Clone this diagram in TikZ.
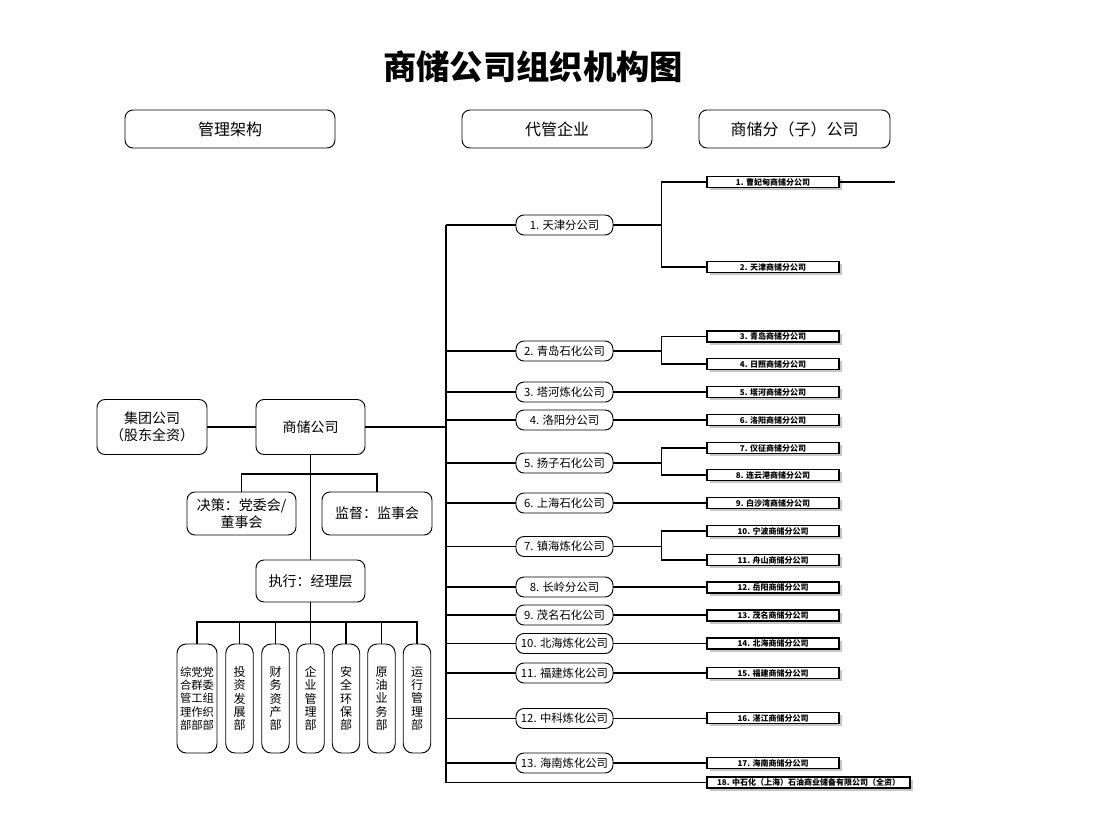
\documentclass[tikz,border=0pt]{standalone}
\usepackage{fontspec}
\setmainfont{Noto Sans CJK SC}
\usetikzlibrary{shadows}
\begin{document}
\begin{tikzpicture}[x=0.75pt,y=-0.75pt,
  conn/.style={line width=0.8pt},
  hdr/.style={draw, line width=0.7pt, rounded corners=6pt, inner sep=0pt, minimum height=28.5pt, font=\fontsize{12}{14}\selectfont},
  mgmt/.style={draw, line width=0.7pt, rounded corners=6pt, align=center, inner sep=0pt, font=\fontsize{10.5}{13}\selectfont},
  dept/.style={draw, line width=0.7pt, rounded corners=7pt, align=center, inner sep=0pt, minimum height=81.75pt, minimum width=20.6pt, font=\fontsize{9}{10}\selectfont},
  pill/.style={draw, line width=0.7pt, rounded corners=6pt, minimum width=72.75pt, minimum height=15pt, inner sep=0pt, font=\fontsize{8.5}{10}\selectfont},
  sub/.style={draw, line width=0.8pt, fill=white, minimum width=99pt, minimum height=8.25pt, inner sep=0pt, font=\bfseries\fontsize{6}{7}\selectfont,
    drop shadow={shadow xshift=2pt, shadow yshift=-2pt, fill=black, opacity=0.22}}
]
\useasboundingbox (0,0) rectangle (1104,821);
\fill[white] (0,0) rectangle (1104,821);

% title
\node[font=\bfseries\fontsize{25}{28}\selectfont] (title) at (533,67) {商储公司组织机构图};

% headers
\node[hdr, minimum width=157.5pt] (h1) at (230,129) {管理架构};
\node[hdr, minimum width=142.5pt] (h2) at (557,129) {代管企业};
\node[hdr, minimum width=143.25pt] (h3) at (794.5,129) {商储分（子）公司};

% management structure
\node[mgmt, minimum width=82.5pt, minimum height=41.25pt] (jt) at (152,427) {集团公司\\（股东全资）};
\node[mgmt, minimum width=81.75pt, minimum height=41.25pt] (sc) at (310.5,427) {商储公司};
\node[mgmt, minimum width=81.75pt, minimum height=32.25pt] (jc) at (241.5,513.5) {决策：党委会/\\董事会};
\node[mgmt, minimum width=82.5pt, minimum height=32.25pt] (jd) at (377,513.5) {监督：监事会};
\node[mgmt, minimum width=81.75pt, minimum height=31.5pt] (zx) at (310.5,581) {执行：经理层};

\draw[conn] (jt.east) -- (sc.west);
\draw[conn] (sc.south) -- (zx.north);
\coordinate (jbar) at (310.5,474);
\draw[conn] (jc.north) -- (jc.north |- jbar) -- (jd.north |- jbar) -- (jd.north);

% departments
\node[dept, minimum width=30pt, font=\fontsize{8.5}{10}\selectfont] (d1) at (197,698.5) {综党党\\合群委\\管工组\\理作织\\部部部};
\node[dept] (d2) at (239.5,698.5) {投\\资\\发\\展\\部};
\node[dept] (d3) at (275.5,698.5) {财\\务\\资\\产\\部};
\node[dept] (d4) at (310.5,698.5) {企\\业\\管\\理\\部};
\node[dept] (d5) at (346,698.5) {安\\全\\环\\保\\部};
\node[dept] (d6) at (381.5,698.5) {原\\油\\业\\务\\部};
\node[dept] (d7) at (417,698.5) {运\\行\\管\\理\\部};
\coordinate (dbar) at (310.5,622);
\draw[conn] (zx.south) -- (dbar);
\draw[conn] (d1.north) -- (d1.north |- dbar) -- (d7.north |- dbar) -- (d7.north);
\foreach \d in {d2,d3,d4,d5,d6}{\draw[conn] (\d.north) -- (\d.north |- dbar);}

% managed enterprises
\foreach \n/\y/\t in {m1/225/{1. 天津分公司}, m2/351/{2. 青岛石化公司}, m3/392/{3. 塔河炼化公司},
  m4/420/{4. 洛阳分公司}, m5/463/{5. 扬子石化公司}, m6/503/{6. 上海石化公司},
  m7/546.5/{7. 镇海炼化公司}, m8/587/{8. 长岭分公司}, m9/615/{9. 茂名石化公司},
  m10/643.5/{10. 北海炼化公司}, m11/673/{11. 福建炼化公司}, m12/718.5/{12. 中科炼化公司},
  m13/763/{13. 海南炼化公司}}{
  \node[pill] (\n) at (564.5,\y) {\t};
}

% sub companies
\foreach \n/\y/\t in {r1/182/{1. 曹妃甸商储分公司}, r2/267/{2. 天津商储分公司}, r3/336.5/{3. 青岛商储分公司},
  r4/364/{4. 日照商储分公司}, r5/392/{5. 塔河商储分公司}, r6/420/{6. 洛阳商储分公司},
  r7/448/{7. 仪征商储分公司}, r8/475/{8. 连云港商储分公司}, r9/503/{9. 白沙湾商储分公司},
  r10/531/{10. 宁波商储分公司}, r11/560/{11. 舟山商储分公司}, r12/587.5/{12. 岳阳商储分公司},
  r13/615.5/{13. 茂名商储分公司}, r14/643.5/{14. 北海商储分公司}, r15/673/{15. 福建商储分公司},
  r16/718/{16. 湛江商储分公司}, r17/763/{17. 海南商储分公司}}{
  \node[sub] (\n) at (773,\y) {\t};
}
\node[sub, minimum width=152.25pt] (r18) at (808.5,782.5) {18. 中石化（上海）石油商业储备有限公司（全资）};

% spine
\coordinate (st) at (446,225);
\coordinate (sb) at (446,782.5);
\draw[conn] (st) -- (sb) -- (r18.west);
\draw[conn] (sc.east) -- (sc.east -| st);
\foreach \m in {m1,m2,m3,m4,m5,m6,m7,m8,m9,m10,m11,m12,m13}{\draw[conn] (\m.west) -- (\m.west -| st);}

% branches with two subsidiaries
\coordinate (bx) at (661.5,0);
\foreach \m/\a/\b in {m1/r1/r2, m2/r3/r4, m5/r7/r8, m7/r10/r11}{
  \coordinate (b\m) at (\m.east -| bx);
  \draw[conn] (\m.east) -- (b\m);
  \draw[conn] (\a.west) -| (b\m);
  \draw[conn] (\b.west) -| (b\m);
}
% single links
\foreach \m/\r in {m3/r5, m4/r6, m6/r9, m8/r12, m9/r13, m10/r14, m11/r15, m12/r16, m13/r17}{
  \draw[conn] (\m.east) -- (\m.east -| \r.west);
}
\coordinate (r1end) at (895,182);
\draw[conn] (r1.east) -- (r1end);
\end{tikzpicture}
\end{document}
